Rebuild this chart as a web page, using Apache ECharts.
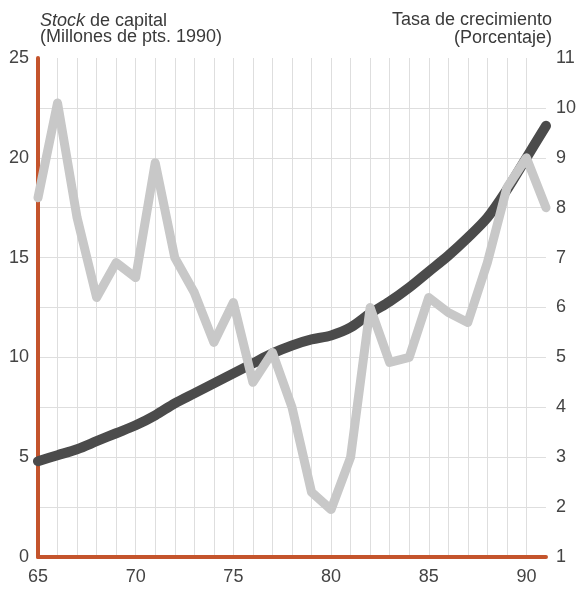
<!DOCTYPE html>
<html>
<head>
<meta charset="utf-8">
<script src="https://cdn.jsdelivr.net/npm/echarts@6/dist/echarts.min.js"></script>
<style>
html,body{margin:0;padding:0;background:#fff;}
#chart{width:579px;height:589px;}
</style>
</head>
<body>
<div id="chart"></div>
<script>
var years = [65,66,67,68,69,70,71,72,73,74,75,76,77,78,79,80,81,82,83,84,85,86,87,88,89,90,91];
var capitalStock = [4.8,5.1,5.4,5.8,6.2,6.6,7.1,7.7,8.2,8.7,9.2,9.7,10.2,10.6,10.9,11.1,11.5,12.2,12.8,13.5,14.3,15.1,16.0,17.0,18.4,20.0,21.6];
var growthRate = [8.2,10.1,7.8,6.2,6.9,6.6,8.9,7.0,6.3,5.3,6.1,4.5,5.1,4.0,2.3,1.95,3.0,6.0,4.9,5.0,6.2,5.9,5.7,6.9,8.4,9.0,8.0];
var xTickLabels = [65,70,75,80,85,90];
var leftTicks = [0,5,10,15,20,25];
var rightTicks = [1,2,3,4,5,6,7,8,9,10,11];

var FONT = "'Liberation Sans', Arial, Helvetica, sans-serif";
var chart = echarts.init(document.getElementById('chart'), null, {renderer:'canvas'});

function pairs(xs, ys){ return xs.map(function(x,i){ return [x, ys[i]]; }); }

chart.setOption({
  backgroundColor: '#ffffff',
  animation: false,
  graphic: [
    {
      type: 'text', x: 40, y: 13,
      style: {
        text: '{i|Stock} de capital\n(Millones de pts. 1990)',
        font: '18px ' + FONT, fill: '#3a3a3a', lineHeight: 16, align: 'left', verticalAlign: 'top',
        rich: { i: { fontStyle: 'italic', fontFamily: FONT, fontSize: 18, fill: '#3a3a3a', lineHeight: 16 } }
      }
    },
    {
      type: 'text', x: 552, y: 11,
      style: {
        text: 'Tasa de crecimiento\n(Porcentaje)',
        font: '18px ' + FONT, fill: '#3a3a3a', lineHeight: 18, align: 'right', verticalAlign: 'top'
      }
    }
  ],
  grid: { left: 38, right: 27, top: 58, bottom: 32, containLabel: false },
  xAxis: {
    type: 'value', min: 65, max: 91, interval: 1,
    axisLine: { show: true, lineStyle: { color: '#c4542c', width: 4 } },
    axisTick: { show: false },
    axisLabel: {
      fontFamily: FONT, fontSize: 18, color: '#444', margin: 11,
      formatter: function(v){ return xTickLabels.indexOf(v) >= 0 ? String(v) : ''; }
    },
    splitLine: { show: true, showMinLine: false, showMaxLine: false, lineStyle: { color: '#dedede', width: 1 } }
  },
  yAxis: [
    {
      type: 'value', min: 0, max: 25, interval: 5, position: 'left',
      axisLine: { show: true, onZero: false, lineStyle: { color: '#c4542c', width: 4 } },
      axisTick: { show: false },
      axisLabel: { fontFamily: FONT, fontSize: 18, color: '#444', margin: 9,
        formatter: function(v){ return leftTicks.indexOf(v) >= 0 ? String(v) : ''; } },
      splitLine: { show: false }
    },
    {
      type: 'value', min: 1, max: 11, interval: 1, position: 'right',
      axisLine: { show: false },
      axisTick: { show: false },
      axisLabel: { fontFamily: FONT, fontSize: 18, color: '#444', margin: 10,
        formatter: function(v){ return rightTicks.indexOf(v) >= 0 ? String(v) : ''; } },
      splitLine: { show: true, showMinLine: false, showMaxLine: false, lineStyle: { color: '#dedede', width: 1 } }
    }
  ],
  series: [
    {
      name: 'Stock de capital', type: 'line', yAxisIndex: 0,
      data: pairs(years, capitalStock),
      smooth: 0.3, showSymbol: false, symbol: 'none',
      lineStyle: { color: '#4b4b4b', width: 10, cap: 'round', join: 'round' },
      z: 3
    },
    {
      name: 'Tasa de crecimiento', type: 'line', yAxisIndex: 1,
      data: pairs(years, growthRate),
      showSymbol: false, symbol: 'none',
      lineStyle: { color: '#c8c8c8', width: 9, cap: 'round', join: 'round' },
      z: 4
    }
  ]
});
</script>
</body>
</html>
